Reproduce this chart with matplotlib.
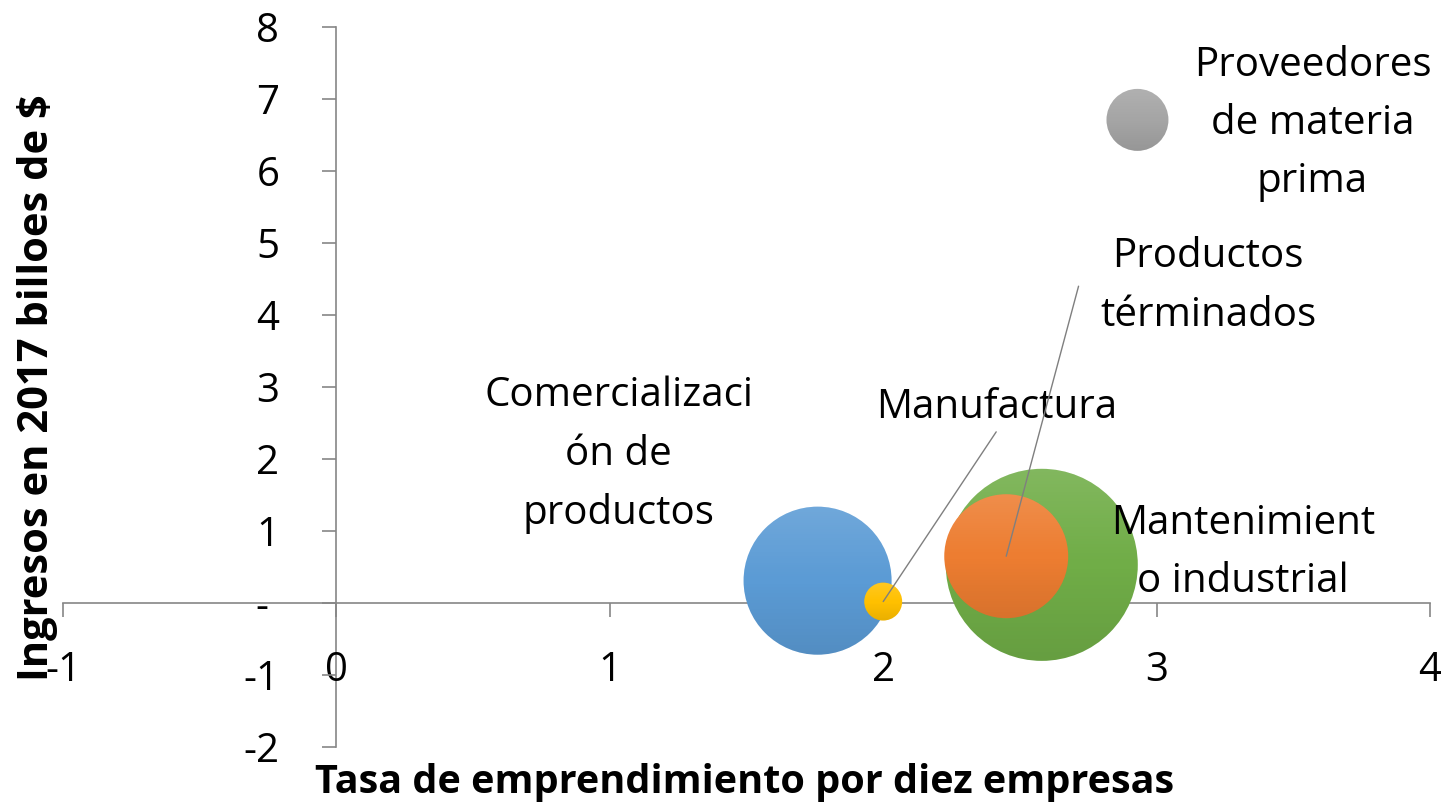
import numpy as np
import matplotlib
matplotlib.use('Agg')
import matplotlib.pyplot as plt
from matplotlib.patches import Circle
from matplotlib.transforms import IdentityTransform

plt.rcParams['font.family'] = ['Open Sans', 'DejaVu Sans']
plt.rcParams['axes.unicode_minus'] = False

# Datos
sectores = ['Comercializaci\nón de\nproductos', 'Manufactura', 'Mantenimient\no industrial',
            'Productos\ntérminados', 'Proveedores\nde materia\nprima']
tasa = np.array([1.76, 2.00, 2.58, 2.45, 2.93])
ingresos = np.array([0.31, 0.02, 0.53, 0.65, 6.71])
tamano = np.array([5.48, 0.36, 9.22, 3.84, 0.96])
colores = ['#5b9bd5', '#ffc000', '#70ad47', '#ed7d31', '#a5a5a5']

x_ticks = [-1, 0, 1, 2, 3, 4]
y_ticks = [-2, -1, 0, 1, 2, 3, 4, 5, 6, 7, 8]
y_tick_labels = ['-2', '-1', '- ', '1', '2', '3', '4', '5', '6', '7', '8']

# posicion de las etiquetas respecto a cada burbuja (pixeles)
offsets = [(-199, 126), (113, 194), (201, 12), (202, 270), (175, -4)]
guias = [False, True, False, True, False]
relpos = [(0.5, 0.5), (0.5, -0.1), (0.5, 0.5), (-0.1, 0.5), (0.5, 0.5)]

fig = plt.figure(figsize=(14.41, 8.08), dpi=100)
ax = fig.add_axes([63 / 1441, 1 - 747 / 808, (1430 - 63) / 1441, (747 - 27) / 808])
ax.set_xlim(-1, 4)
ax.set_ylim(-2, 8)

# degradado suave (claro arriba, oscuro abajo) como en Excel
grad = np.zeros((100, 1, 4))
t = np.linspace(0, 1, 100)
grad[:, 0, :3] = np.where(t[:, None] < 0.5, 1.0, 0.0)
grad[:, 0, 3] = np.abs(t - 0.5) * np.where(t < 0.5, 0.26, 0.18)

for i in range(len(sectores)):
    s = tamano[i] * 2073.6
    ax.scatter(tasa[i], ingresos[i], s=s, color=colores[i],
               edgecolors='none', zorder=3 + i * 0.01)
    cx, cy = ax.transData.transform((tasa[i], ingresos[i]))
    r = np.sqrt(s) / 2 * fig.dpi / 72
    inv = ax.transData.inverted()
    x0, y0 = inv.transform((cx - r, cy - r))
    x1, y1 = inv.transform((cx + r, cy + r))
    im = ax.imshow(grad, extent=(x0, x1, y0, y1), aspect='auto', origin='upper',
                   interpolation='bilinear', zorder=3 + i * 0.01 + 0.005)
    im.set_clip_path(Circle((cx, cy), r, transform=IdentityTransform()))

for i in range(len(sectores)):
    props = None
    if guias[i]:
        props = dict(arrowstyle='-', color='#7f7f7f', lw=1.0, relpos=relpos[i],
                     shrinkA=0, shrinkB=0, patchA=None)
    ax.annotate(sectores[i], xy=(tasa[i], ingresos[i]), xytext=offsets[i],
                textcoords='offset pixels', ha='center', va='center',
                fontsize=29, linespacing=1.58, arrowprops=props, zorder=4)

ax.set_xlim(-1, 4)
ax.set_ylim(-2, 8)
ax.set_xticks(x_ticks)
ax.set_yticks(y_ticks)
ax.set_yticklabels(y_tick_labels)

for lado in ['top', 'right']:
    ax.spines[lado].set_visible(False)
ax.spines['left'].set_position(('data', 0))
ax.spines['bottom'].set_position(('data', 0))
for lado in ['left', 'bottom']:
    ax.spines[lado].set_color('#868686')
    ax.spines[lado].set_linewidth(1.2)
    ax.spines[lado].set_zorder(1)

ax.tick_params(axis='x', direction='out', length=10, width=1.2, color='#868686',
               pad=24, labelsize=29)
ax.tick_params(axis='y', direction='out', length=10, width=1.2, color='#868686',
               pad=31, labelsize=29)
ax.patch.set_visible(False)

fig.text(745 / 1441, 1 - 783 / 808, 'Tasa de emprendimiento por diez empresas',
         ha='center', va='center', fontsize=28.5, fontweight='bold')
fig.text(38 / 1441, 1 - 388 / 808, 'Ingresos en 2017 billoes de $',
         ha='center', va='center', rotation=90, fontsize=30, fontweight='bold')

fig.savefig('out.png', dpi=100)
